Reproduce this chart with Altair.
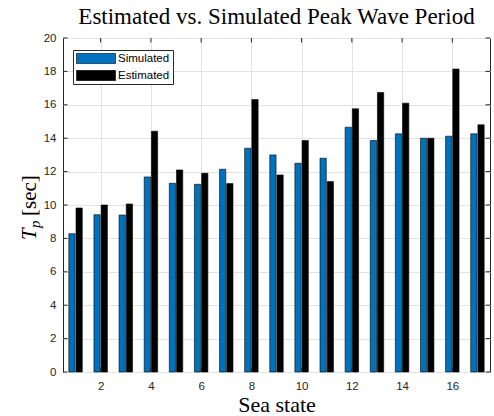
import altair as alt
import pandas as pd

# ---- data ----
sea_state = list(range(1, 18))
simulated = [8.28, 9.42, 9.40, 11.68, 11.30, 11.24, 12.14, 13.40, 13.00,
             12.50, 12.80, 14.66, 13.86, 14.26, 14.00, 14.12, 14.26]
estimated = [9.82, 10.00, 10.06, 14.42, 12.10, 11.90, 11.28, 16.32, 11.80,
             13.86, 11.40, 15.76, 16.74, 16.10, 14.00, 18.14, 14.80]
series_names = ["Simulated", "Estimated"]
series_colors = ["#0072BD", "#000000"]
y_ticks = list(range(0, 21, 2))
x_ticks = list(range(2, 17, 2))

rows = []
for s, a, b in zip(sea_state, simulated, estimated):
    rows.append({"state": s, "series": series_names[0], "value": a, "k": 0})
    rows.append({"state": s, "series": series_names[1], "value": b, "k": 1})
df = pd.DataFrame(rows)
ydf = pd.DataFrame({"v": y_ticks})
xdf = pd.DataFrame({"v": x_ticks})

W, H = 427, 334
TL = 4.5
AX = "#262626"
xscale = alt.Scale(domain=[0.5, 17.5], nice=False, zero=False)
yscale = alt.Scale(domain=[0, 20], nice=False)

sans = "Liberation Sans, Arial, sans-serif"
serif = "Liberation Serif, Times New Roman, serif"

x_axis = alt.Axis(
    values=x_ticks, title="Sea state", titleFont=serif, titleFontSize=22,
    titleFontWeight="normal", titleColor="black", titleY=39,
    titleBaseline="alphabetic", labelFont=sans, labelFontSize=11.5,
    labelColor=AX, labelPadding=8, labelOverlap=False, ticks=False,
    domain=False, grid=True, gridColor="#e3e3e3", gridWidth=1)
y_axis = alt.Axis(
    values=y_ticks, title=None,
    labelFont=sans, labelFontSize=11.5, labelColor=AX, labelPadding=7,
    labelOverlap=False, ticks=False, domain=False, grid=True,
    gridColor="#e3e3e3", gridWidth=1)

bars = alt.Chart(df).transform_calculate(
    x0="datum.state + (datum.k == 0 ? -0.268 : 0.018)",
    x1="datum.state + (datum.k == 0 ? -0.018 : 0.268)",
    base="0",
).mark_bar(stroke="#000000", strokeWidth=0.6, opacity=1).encode(
    x=alt.X("x0:Q", scale=xscale, axis=x_axis),
    x2="x1:Q",
    y=alt.Y("value:Q", stack=None, scale=yscale, axis=y_axis),
    y2="base:Q",
    color=alt.Color("series:N", sort=series_names,
                    scale=alt.Scale(domain=series_names, range=series_colors),
                    legend=alt.Legend(
                        title=None, orient="none", legendX=10, legendY=12,
                        direction="vertical",
                        symbolType="M-1,-0.272L1,-0.272L1,0.272L-1,0.272Z",
                        symbolSize=1521, symbolStrokeColor="black",
                        symbolStrokeWidth=0.6, symbolOpacity=1,
                        labelFont=sans, labelFontSize=11.5, labelColor="black",
                        labelOffset=2, padding=3, clipHeight=11, rowPadding=5,
                        strokeColor=AX, fillColor="white", cornerRadius=0)),
)

left_ticks = alt.Chart(ydf).mark_rule(color=AX, strokeWidth=1).encode(
    y=alt.Y("v:Q", scale=yscale, axis=y_axis), x=alt.value(0), x2=alt.value(TL))
right_ticks = alt.Chart(ydf).mark_rule(color=AX, strokeWidth=1).encode(
    y=alt.Y("v:Q", scale=yscale, axis=y_axis), x=alt.value(W - TL), x2=alt.value(W))
top_ticks = alt.Chart(xdf).mark_rule(color=AX, strokeWidth=1).encode(
    x=alt.X("v:Q", scale=xscale, axis=x_axis), y=alt.value(0), y2=alt.value(TL))
bottom_ticks = alt.Chart(xdf).mark_rule(color=AX, strokeWidth=1).encode(
    x=alt.X("v:Q", scale=xscale, axis=x_axis), y=alt.value(H - TL), y2=alt.value(H))

# y-axis title  T_p [sec]  (italic T, subscript p), rotated
ytitle_T = alt.Chart(pd.DataFrame({"t": ["T"]})).mark_text(
    font=serif, fontSize=21, fontStyle="italic", angle=270, align="left",
    baseline="alphabetic", color="black").encode(
    text="t:N", x=alt.value(-27), y=alt.value(202))
ytitle_p = alt.Chart(pd.DataFrame({"t": ["p"]})).mark_text(
    font=serif, fontSize=15, fontStyle="italic", angle=270, align="left",
    baseline="alphabetic", color="black").encode(
    text="t:N", x=alt.value(-23), y=alt.value(190))
ytitle_s = alt.Chart(pd.DataFrame({"t": ["[sec]"]})).mark_text(
    font=serif, fontSize=21, angle=270, align="left",
    baseline="alphabetic", color="black").encode(
    text="t:N", x=alt.value(-27), y=alt.value(178))

chart = alt.layer(bars, left_ticks, right_ticks, top_ticks, bottom_ticks,
                  ytitle_T, ytitle_p, ytitle_s).properties(
    width=W, height=H,
    title=alt.TitleParams("Estimated vs. Simulated Peak Wave Period",
                          font=serif, fontSize=23, fontWeight="normal",
                          color="black", anchor="middle", frame="group",
                          baseline="alphabetic", offset=4, dy=19),
    autosize=alt.AutoSizeParams(type="none"),
    padding={"left": 63, "top": 38, "right": 4, "bottom": 44},
    background="white",
).configure_view(stroke=AX, strokeWidth=1)

chart.save("out.html", embed_options={"renderer": "svg", "actions": False})
